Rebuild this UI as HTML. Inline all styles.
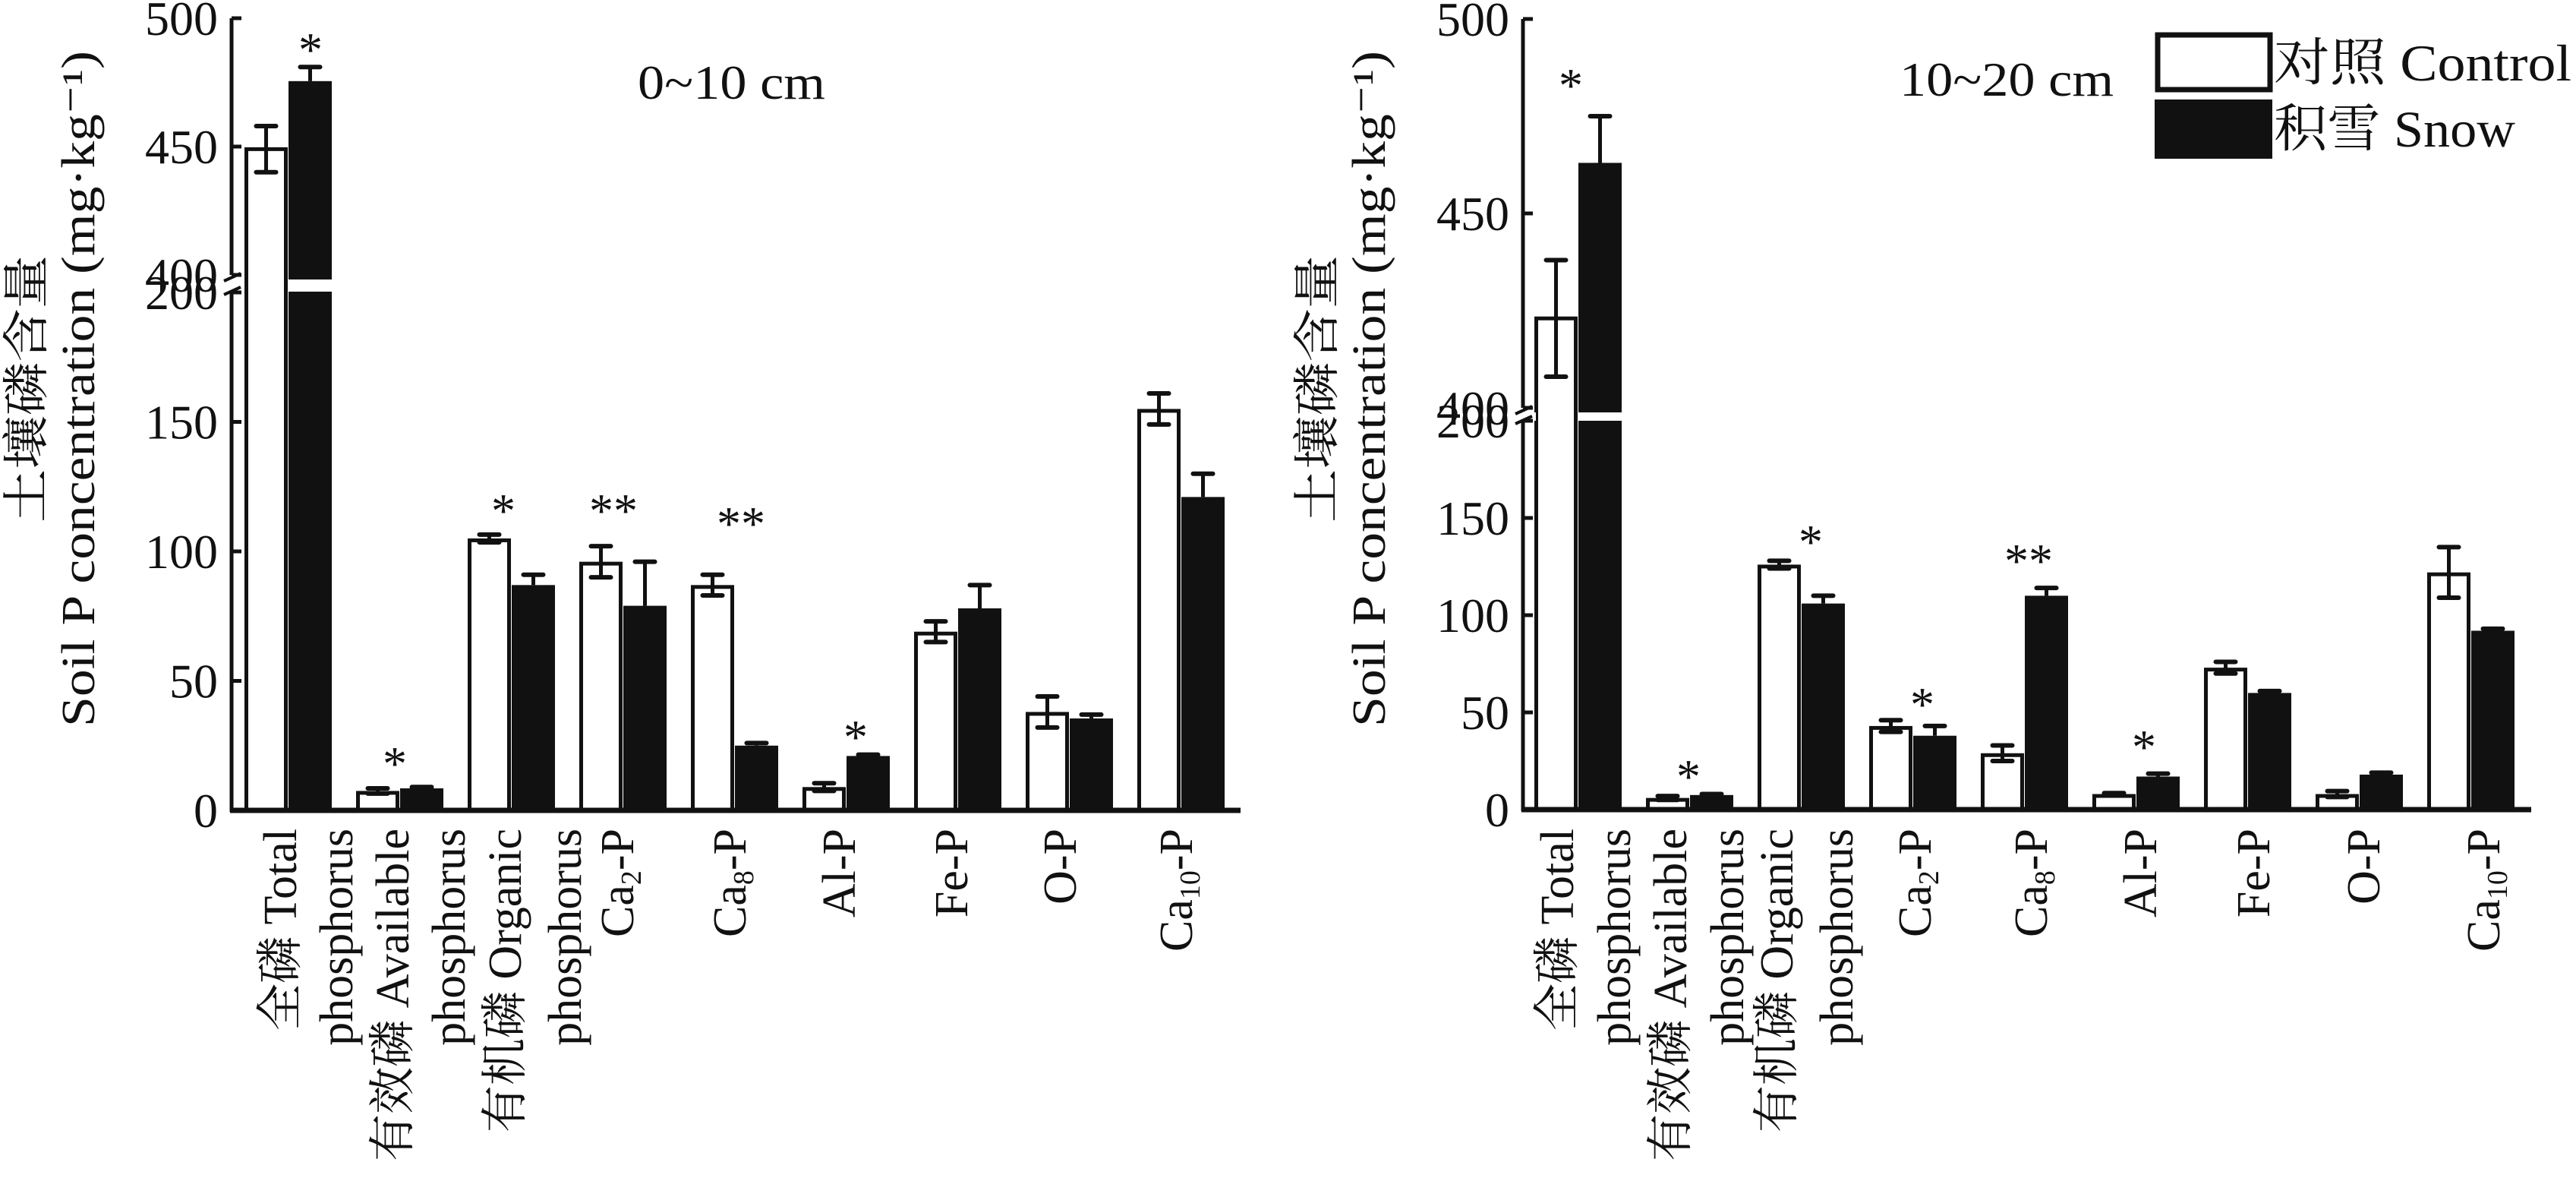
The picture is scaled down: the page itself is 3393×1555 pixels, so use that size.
<!DOCTYPE html>
<html><head><meta charset="utf-8">
<style>
html,body{margin:0;padding:0;background:#fff;}
svg{display:block;}
text{font-family:"Liberation Serif","Noto Serif CJK SC","Noto Sans CJK SC",serif;fill:#111;}
.xl{font-size:62px;}
</style></head>
<body>
<svg id="s" width="3393" height="1555" viewBox="0 0 3393 1555" xmlns="http://www.w3.org/2000/svg">
<g id="g"></g>
<rect x="2842" y="46" width="148" height="72" fill="#fff" stroke="#111" stroke-width="7"/>
<rect x="2838" y="131" width="155" height="78" fill="#111"/>
<text x="2995" y="106" font-size="68" textLength="392" lengthAdjust="spacingAndGlyphs">对照 Control</text>
<text x="2995" y="193" font-size="68" textLength="318" lengthAdjust="spacingAndGlyphs">积雪 Snow</text>
<text x="840" y="130" font-size="64" textLength="247" lengthAdjust="spacingAndGlyphs">0~10 cm</text>
<text x="2502" y="126" font-size="64" textLength="282" lengthAdjust="spacingAndGlyphs">10~20 cm</text>

<g class="xl" text-anchor="end">
<text transform="translate(390,1091) rotate(-90)">全磷 Total</text>
<text transform="translate(464,1091) rotate(-90)">phosphorus</text>
<text transform="translate(538,1091) rotate(-90)">有效磷 Available</text>
<text transform="translate(612,1091) rotate(-90)">phosphorus</text>
<text transform="translate(686,1091) rotate(-90)">有机磷 Organic</text>
<text transform="translate(765,1091) rotate(-90)">phosphorus</text>
<text transform="translate(834,1091) rotate(-90)">Ca<tspan font-size="38" dy="10">2</tspan><tspan dy="-10">-P</tspan></text>
<text transform="translate(982,1091) rotate(-90)">Ca<tspan font-size="38" dy="10">8</tspan><tspan dy="-10">-P</tspan></text>
<text transform="translate(1126,1091) rotate(-90)">Al-P</text>
<text transform="translate(1274,1091) rotate(-90)">Fe-P</text>
<text transform="translate(1417,1091) rotate(-90)">O-P</text>
<text transform="translate(1570,1091) rotate(-90)">Ca<tspan font-size="38" dy="10">10</tspan><tspan dy="-10">-P</tspan></text>

<text transform="translate(2072,1091) rotate(-90)">全磷 Total</text>
<text transform="translate(2147,1091) rotate(-90)">phosphorus</text>
<text transform="translate(2221,1091) rotate(-90)">有效磷 Available</text>
<text transform="translate(2296,1091) rotate(-90)">phosphorus</text>
<text transform="translate(2361,1091) rotate(-90)">有机磷 Organic</text>
<text transform="translate(2440,1091) rotate(-90)">phosphorus</text>
<text transform="translate(2543,1091) rotate(-90)">Ca<tspan font-size="38" dy="10">2</tspan><tspan dy="-10">-P</tspan></text>
<text transform="translate(2696,1091) rotate(-90)">Ca<tspan font-size="38" dy="10">8</tspan><tspan dy="-10">-P</tspan></text>
<text transform="translate(2840,1091) rotate(-90)">Al-P</text>
<text transform="translate(2989,1091) rotate(-90)">Fe-P</text>
<text transform="translate(3134,1091) rotate(-90)">O-P</text>
<text transform="translate(3292,1091) rotate(-90)">Ca<tspan font-size="38" dy="10">10</tspan><tspan dy="-10">-P</tspan></text>
</g>
</svg>
<script>
var NS="http://www.w3.org/2000/svg",G=document.getElementById('g');
function el(t,a,txt){var e=document.createElementNS(NS,t);for(var k in a)e.setAttribute(k,a[k]);if(txt!==undefined)e.textContent=txt;G.appendChild(e);return e;}
function panel(o){
 var ax=o.ax, y0=o.y0, ls=o.ls, uTop=o.uTop, us=o.us, breakA=o.breakA, breakB=o.breakB;
 function Y(v){return v<=200? y0-v*ls : uTop-(v-400)*us;}
 for(var i=0;i<9;i++){
  var g=o.gx+147*i, d=o.data[i];
  var pairs=[[d[0],d[1],g,0],[d[2],d[3],g+58,1]];
  pairs.forEach(function(p){
   var v=p[0],e=p[1],x=p[2],blk=p[3],w=57;
   var cx=x+w/2;
   if(v>200){
     if(blk){ el('rect',{x:x,y:Y(v),width:w,height:breakA+6-Y(v),fill:'#111'});
              el('rect',{x:x,y:breakB,width:w,height:y0-breakB,fill:'#111'});}
     else { el('rect',{x:x+2.5,y:Y(v),width:w-5,height:y0-Y(v),fill:'#fff',stroke:'#111','stroke-width':5});}
   } else {
     if(blk) el('rect',{x:x,y:Y(v),width:w,height:y0-Y(v),fill:'#111'});
     else el('rect',{x:x+2.5,y:Y(v)+2.5,width:w-5,height:y0-Y(v)-2.5,fill:'#fff',stroke:'#111','stroke-width':5});
   }
   var t=Y(v+e), b=blk?Y(v):Y(v-e);
   el('line',{x1:cx,y1:t,x2:cx,y2:b,stroke:'#111','stroke-width':5});
   el('line',{x1:cx-13,y1:t,x2:cx+13,y2:t,stroke:'#111','stroke-width':6,'stroke-linecap':'round'});
   if(!blk) el('line',{x1:cx-13,y1:b,x2:cx+13,y2:b,stroke:'#111','stroke-width':6,'stroke-linecap':'round'});
  });
 }
 el('rect',{x:ax+4,y:breakA+6,width:13,height:breakB-breakA-6,fill:'#fff'});
 el('line',{x1:ax,y1:Y(500),x2:ax,y2:breakA,stroke:'#111','stroke-width':5});
 el('line',{x1:ax,y1:breakB,x2:ax,y2:y0+2,stroke:'#111','stroke-width':5});
 el('line',{x1:ax-10,y1:breakA+8,x2:ax+12,y2:breakA-2,stroke:'#111','stroke-width':4});
 el('line',{x1:ax-10,y1:breakB+4,x2:ax+12,y2:breakB-6,stroke:'#111','stroke-width':4});
 el('line',{x1:ax-2,y1:y0,x2:o.axEnd,y2:y0,stroke:'#111','stroke-width':7});
 [0,50,100,150,200,400,450,500].forEach(function(v){
   var y=Y(v); if(v==400) y=o.y400;
   el('line',{x1:ax,y1:y,x2:ax+13,y2:y,stroke:'#111','stroke-width':5});
   el('text',{x:ax-18,y:y+22,'font-size':64,'text-anchor':'end'},String(v));
 });
 var cy=512;
 el('text',{x:-176,y:0,'font-size':62,transform:'translate('+(o.tx+56)+','+cy+') rotate(-90)',textLength:352,lengthAdjust:'spacingAndGlyphs'},'土壤磷含量');
 el('text',{x:-445,y:0,'font-size':62,transform:'translate('+(o.tx+124)+','+cy+') rotate(-90)',textLength:890,lengthAdjust:'spacingAndGlyphs'},'Soil P concentration (mg·kg⁻¹)');
 o.stars.forEach(function(s){el('text',{x:s[0],y:s[1]+34,'font-size':64,'text-anchor':'middle'},s[2]);});
}
panel({ax:305,y0:1067,ls:3.41,uTop:362,us:3.38,breakA:362,breakB:384,y400:362,axEnd:1634,gx:322,tx:0,
 data:[[449,9,475.5,5.5],[7.5,1,8.5,0.5],[105,1.5,87,4],[96,6,79,17],[87,4,25,1],[9,1.5,21,0.5],[69,4,78,9],[38,6,35.5,1.5],[155,6,121,9]],
 stars:[[409,53,'*'],[520,993,'*'],[663,660,'*'],[808,660,'**'],[976,677,'**'],[1127,958,'*']]
});
panel({ax:2006,y0:1066,ls:2.56,uTop:537,us:5.12,breakA:537,breakB:554,y400:537,axEnd:3334,gx:2021,tx:1700,
 data:[[423,15,463,12],[6,1,7.5,0.5],[126,2,106,4],[43,3,38,5],[29,4,110,4],[8,0.5,17,1.5],[73,3,60,1],[8,1.5,18,1],[122,13,92,1]],
 stars:[[2069,100,'*'],[2224,1010,'*'],[2385,701,'*'],[2532,915,'*'],[2672,726,'**'],[2824,971,'*']]
});
</script>
</body></html>
